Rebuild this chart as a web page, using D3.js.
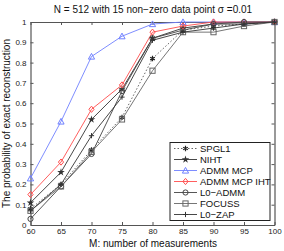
<!DOCTYPE html>
<html>
<head>
<meta charset="utf-8">
<script src="https://cdn.jsdelivr.net/npm/d3@7"></script>
<style>
  body { margin: 0; background: #fff; }
  svg text { font-family: "Liberation Sans", Arial, sans-serif; }
</style>
</head>
<body>
<div id="chart"></div>
<script>
// sample sizes on the x axis
var mValues = [60, 65, 70, 75, 80, 85, 90, 95, 100];
var xTicks = [60, 65, 70, 75, 80, 85, 90, 95, 100];
var yTicks = [0, 0.1, 0.2, 0.3, 0.4, 0.5, 0.6, 0.7, 0.8, 0.9, 1];

var spgl1 = [0.08, 0.20, 0.37, 0.53, 0.82, 0.96, 0.98, 0.99, 1.0];
var niht = [0.11, 0.26, 0.52, 0.67, 0.92, 0.97, 0.99, 0.99, 1.0];
var admmMcp = [0.23, 0.51, 0.83, 0.93, 0.99, 1.0, 1.0, 1.0, 1.0];
var admmMcpIht = [0.15, 0.31, 0.57, 0.69, 0.95, 0.98, 1.0, 1.0, 1.0];
var l0Admm = [0.03, 0.19, 0.35, 0.66, 0.92, 0.96, 0.99, 1.0, 1.0];
var focuss = [0.07, 0.19, 0.36, 0.52, 0.76, 0.95, 0.95, 0.98, 1.0];
var l0Zap = [0.07, 0.20, 0.44, 0.63, 0.91, 0.95, 0.97, 0.99, 1.0];

var seriesNames = ['SPGL1', 'NIHT', 'ADMM MCP', 'ADMM MCP IHT', 'L0\u2212ADMM', 'FOCUSS', 'L0\u2212ZAP'];

var width = 284, height = 251;
var plotLeft = 30.5, plotRight = 274.5, plotTop = 22, plotBottom = 225;

var series = [
  { name: seriesNames[0], values: spgl1, color: '#555', dash: '1.5,2', marker: 'asterisk' },
  { name: seriesNames[1], values: niht, color: '#333', dash: null, marker: 'star' },
  { name: seriesNames[2], values: admmMcp, color: '#6f80ff', dash: null, marker: 'triangle' },
  { name: seriesNames[3], values: admmMcpIht, color: '#ff4d4d', dash: null, marker: 'diamond' },
  { name: seriesNames[4], values: l0Admm, color: '#444', dash: null, marker: 'circle' },
  { name: seriesNames[5], values: focuss, color: '#666', dash: null, marker: 'square' },
  { name: seriesNames[6], values: l0Zap, color: '#333', dash: null, marker: 'plus' }
];

var svg = d3.select('#chart').append('svg')
  .attr('width', width)
  .attr('height', height);

var x = d3.scaleLinear().domain([60, 100]).range([plotLeft, plotRight]);
var y = d3.scaleLinear().domain([0, 1]).range([plotBottom, plotTop]);

var axisColor = '#555';

// frame with inward ticks on every side
var gx = svg.append('g').attr('transform', 'translate(0,' + plotBottom + ')')
  .call(d3.axisBottom(x).tickValues(xTicks).tickSize(-3).tickPadding(3).tickSizeOuter(0));
var gxt = svg.append('g').attr('transform', 'translate(0,' + plotTop + ')')
  .call(d3.axisTop(x).tickValues(xTicks).tickSize(-3).tickFormat('').tickSizeOuter(0));
var gy = svg.append('g').attr('transform', 'translate(' + plotLeft + ',0)')
  .call(d3.axisLeft(y).tickValues(yTicks).tickSize(-3).tickPadding(4).tickSizeOuter(0)
    .tickFormat(d3.format('~g')));
var gyr = svg.append('g').attr('transform', 'translate(' + plotRight + ',0)')
  .call(d3.axisRight(y).tickValues(yTicks).tickSize(-3).tickFormat('').tickSizeOuter(0));

[gx, gxt, gy, gyr].forEach(function(g) {
  g.select('.domain').attr('stroke', axisColor).attr('stroke-width', 1.2);
  g.selectAll('.tick line').attr('stroke', axisColor);
  g.selectAll('.tick text').attr('fill', '#222').style('font-size', '8px');
});

function drawMarker(g, type, cx, cy, color) {
  var s = 2.6;
  if (type === 'circle') {
    g.append('circle').attr('cx', cx).attr('cy', cy).attr('r', s)
      .attr('fill', 'none').attr('stroke', color);
  } else if (type === 'square') {
    g.append('rect').attr('x', cx - s).attr('y', cy - s).attr('width', 2 * s).attr('height', 2 * s)
      .attr('fill', 'none').attr('stroke', color);
  } else if (type === 'triangle') {
    g.append('path').attr('d', 'M' + cx + ',' + (cy - s - 0.5) + 'L' + (cx + s + 0.5) + ',' + (cy + s) + 'L' + (cx - s - 0.5) + ',' + (cy + s) + 'Z')
      .attr('fill', 'none').attr('stroke', color);
  } else if (type === 'diamond') {
    g.append('path').attr('d', 'M' + cx + ',' + (cy - s - 0.5) + 'L' + (cx + s) + ',' + cy + 'L' + cx + ',' + (cy + s + 0.5) + 'L' + (cx - s) + ',' + cy + 'Z')
      .attr('fill', 'none').attr('stroke', color);
  } else if (type === 'star') {
    g.append('path').attr('d', d3.symbol().type(d3.symbolStar).size(18)())
      .attr('transform', 'translate(' + cx + ',' + cy + ')')
      .attr('fill', color);
  } else if (type === 'asterisk') {
    g.append('path').attr('d', d3.symbol().type(d3.symbolAsterisk).size(20)())
      .attr('transform', 'translate(' + cx + ',' + cy + ')')
      .attr('fill', 'none').attr('stroke', '#222').attr('stroke-width', 1.2);
  } else if (type === 'plus') {
    g.append('path').attr('d', 'M' + (cx - s) + ',' + cy + 'H' + (cx + s) + 'M' + cx + ',' + (cy - s) + 'V' + (cy + s))
      .attr('stroke', color);
  }
}

var line = d3.line()
  .x(function(d, i) { return x(mValues[i]); })
  .y(function(d) { return y(d); });

var plot = svg.append('g');
series.forEach(function(s) {
  plot.append('path')
    .datum(s.values)
    .attr('d', line)
    .attr('fill', 'none')
    .attr('stroke', s.color)
    .attr('stroke-width', 0.9)
    .attr('stroke-dasharray', s.dash);
  var mg = plot.append('g');
  s.values.forEach(function(v, i) {
    drawMarker(mg, s.marker, x(mValues[i]), y(v), s.color);
  });
});

// legend
var legend = svg.append('g');
legend.append('rect')
  .attr('x', 170).attr('y', 142.5).attr('width', 100).attr('height', 78)
  .attr('fill', '#fff').attr('stroke', '#222').attr('stroke-width', 1);
series.forEach(function(s, i) {
  var ly = 148.5 + i * 11;
  legend.append('line')
    .attr('x1', 174).attr('x2', 197).attr('y1', ly).attr('y2', ly)
    .attr('stroke', s.color).attr('stroke-width', 0.9)
    .attr('stroke-dasharray', s.dash);
  drawMarker(legend, s.marker, 185.5, ly, s.color);
  legend.append('text')
    .attr('x', 200).attr('y', ly + 3.5)
    .style('font-size', '9.5px')
    .attr('fill', '#111')
    .text(s.name);
});

// titles
svg.append('text')
  .attr('x', 153).attr('y', 13)
  .attr('text-anchor', 'middle')
  .style('font-size', '10px')
  .attr('fill', '#111')
  .text('N = 512 with 15 non\u2212zero data point \u03c3 =0.01');

svg.append('text')
  .attr('x', 153).attr('y', 246.5)
  .attr('text-anchor', 'middle')
  .style('font-size', '10px')
  .attr('fill', '#111')
  .text('M: number of measurements');

svg.append('text')
  .attr('transform', 'translate(10,' + ((plotTop + plotBottom) / 2) + ') rotate(-90)')
  .attr('text-anchor', 'middle')
  .style('font-size', '10px')
  .attr('fill', '#111')
  .text('The probability of exact reconstruction');
</script>
</body>
</html>
